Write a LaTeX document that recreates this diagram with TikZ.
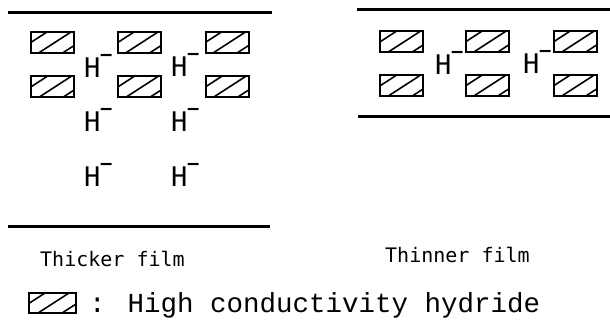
\documentclass[tikz,border=0pt]{standalone}
\usepackage{fontspec}
\setmonofont{DejaVu Sans Mono}
\newfontfamily\legfont{Liberation Mono}
\newfontfamily\hfont{DejaVu Sans Mono}
\usetikzlibrary{calc}
\newcommand\Hm{H\kern0.5pt\raisebox{17pt}{\fontsize{18}{18}\selectfont\bfseries –}}
\tikzset{
  rulel/.style={line width=3pt},
  hyd/.style={draw, line width=2pt, minimum width=43pt, minimum height=21pt, inner sep=0pt,
    path picture={\draw[line width=1.6pt]
      ($(path picture bounding box.north west)+(16,0)$) -- ++(-34,22)
      ($(path picture bounding box.north west)+(40,0)$) -- ++(-34,22)
      ($(path picture bounding box.north west)+(64,0)$) -- ++(-34,22);}},
  hion/.style={anchor=base west, inner sep=0pt, font=\hfont\fontsize{27}{27}\selectfont},
  film/.style={anchor=base west, inner sep=0pt, font=\ttfamily\fontsize{20}{20}\selectfont},
}
\begin{document}
\begin{tikzpicture}[x=1pt,y=-1pt]
\useasboundingbox (0,0) rectangle (610,320);
% left panel rules
\coordinate (lt1) at (8,13); \coordinate (lt2) at (272,13);
\coordinate (lb1) at (8,227); \coordinate (lb2) at (270,227);
\draw[rulel] (lt1) -- (lt2);
\draw[rulel] (lb1) -- (lb2);
% left boxes
\node[hyd] (l11) at (52.5,42.5) {};
\node[hyd] (l12) at (139.5,42.5) {};
\node[hyd] (l13) at (227,42.5) {};
\node[hyd] (l21) at (52.5,87) {};
\node[hyd] (l22) at (139.5,87) {};
\node[hyd] (l23) at (227,87) {};
% left ions
\node[hion] (ha1) at (84,78) {\Hm};
\node[hion] (hb1) at (171,77) {\Hm};
\node[hion] (ha2) at (84,132) {\Hm};
\node[hion] (hb2) at (171,132) {\Hm};
\node[hion] (ha3) at (84,187) {\Hm};
\node[hion] (hb3) at (171,187) {\Hm};
% right panel rules
\coordinate (rt1) at (357,10); \coordinate (rt2) at (610,10);
\coordinate (rb1) at (358,117); \coordinate (rb2) at (610,117);
\draw[rulel] (rt1) -- (rt2);
\draw[rulel] (rb1) -- (rb2);
% right boxes
\node[hyd] (r11) at (401.5,42) {};
\node[hyd] (r12) at (487,42) {};
\node[hyd] (r13) at (575,42) {};
\node[hyd] (r21) at (401.5,86) {};
\node[hyd] (r22) at (487,86) {};
\node[hyd] (r23) at (575,86) {};
% right ions
\node[hion] (rh1) at (435,75) {\Hm};
\node[hion] (rh2) at (523,74) {\Hm};
% labels
\node[film] (thick) at (40,267) {Thicker film};
\node[film] (thin) at (385,262) {Thinner film};
% legend
\node[hyd, minimum width=47pt, minimum height=20pt] (leg) at (52.5,303) {};
\node[anchor=base west, inner sep=0pt, font=\legfont\fontsize{27.5}{27.5}\selectfont] (legt) at (89,312) {: High conductivity hydride};
\end{tikzpicture}
\end{document}
